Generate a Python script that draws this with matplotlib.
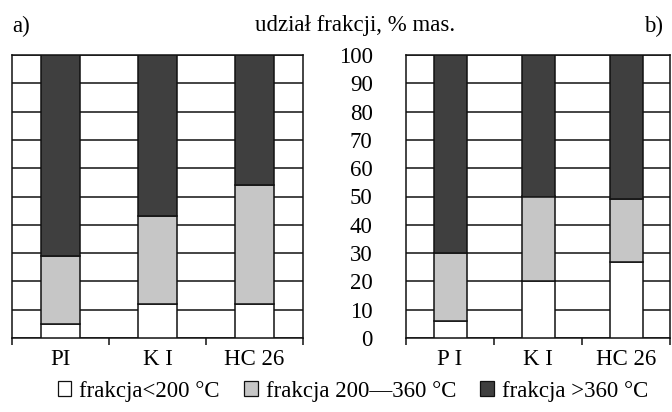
import matplotlib
matplotlib.use("Agg")
import matplotlib.pyplot as plt
from matplotlib.patches import Patch

plt.rcParams['font.family'] = ['Liberation Serif', 'DejaVu Serif']
plt.rcParams['font.size'] = 16.5

# udział frakcji, % mas.
labels_a = ['PI', 'K I', 'HC 26']
light_a = [5, 12, 12]
mid_a = [24, 31, 42]
heavy_a = [71, 57, 46]

labels_b = ['P I', 'K I', 'HC 26']
light_b = [6, 20, 27]
mid_b = [24, 30, 22]
heavy_b = [70, 50, 51]

legend_labels = ['frakcja<200 °C', 'frakcja 200\u2014360 °C', 'frakcja >360 °C']
colors = ['white', '#c6c6c6', '#3f3f3f']


def draw_panel(ax, labels, light, mid, heavy, width):
    x = list(range(len(labels)))
    bottom = [0] * len(labels)
    for vals, c in zip([light, mid, heavy], colors):
        ax.bar(x, vals, width, bottom=bottom, color=c, edgecolor='#111111',
               linewidth=1.1, zorder=3)
        bottom = [b + v for b, v in zip(bottom, vals)]
    ax.set_xlim(-0.5, len(labels) - 0.5)
    ax.set_ylim(0, 100)
    ax.set_yticks(range(0, 101, 10))
    ax.grid(axis='y', color='#111111', linewidth=1.1, zorder=0)
    ax.set_xticks(x)
    ax.set_xticklabels(labels)
    ax.set_xticks([i - 0.5 for i in range(len(labels) + 1)], minor=True)
    ax.tick_params(axis='x', which='major', length=0, pad=8)
    ax.tick_params(axis='x', which='minor', length=5, width=1.1, color='#111111')
    for s in ax.spines.values():
        s.set_linewidth(1.1)
        s.set_color('#111111')


fig = plt.figure(figsize=(6.72, 4.12), dpi=100)
ax_a = fig.add_axes([12 / 672, 74 / 412, 291 / 672, 283 / 412])
ax_b = fig.add_axes([406 / 672, 74 / 412, 264 / 672, 283 / 412])

draw_panel(ax_a, labels_a, light_a, mid_a, heavy_a, 0.41)
draw_panel(ax_b, labels_b, light_b, mid_b, heavy_b, 0.375)

ax_a.tick_params(axis='y', length=0, labelleft=False)
ax_b.tick_params(axis='y', length=0, pad=24)

fig.text(12 / 672, 1 - 26 / 412, 'a)', ha='left', va='center')
fig.text(663 / 672, 1 - 26 / 412, 'b)', ha='right', va='center')
fig.text(355 / 672, 1 - 26 / 412, 'udział frakcji, % mas.', ha='center', va='center')

handles = [Patch(facecolor=c, edgecolor='#111111', linewidth=0.9) for c in colors]
fig.legend(handles, legend_labels, loc='center', bbox_to_anchor=(353 / 672, 21 / 412),
           ncol=3, frameon=False, handlelength=0.6, handleheight=0.6,
           handletextpad=0.35, columnspacing=1.05, borderpad=0)

fig.savefig('out.png', dpi=100)
